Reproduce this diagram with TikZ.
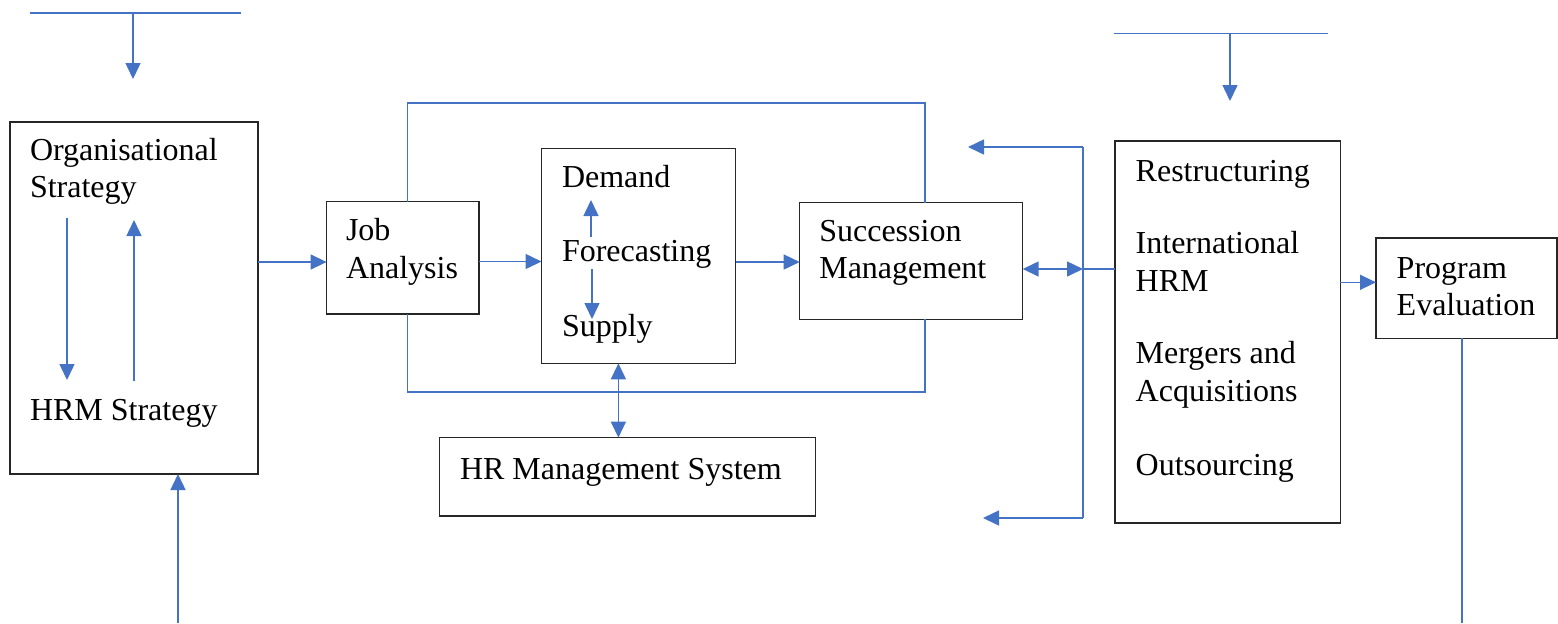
\documentclass[tikz,border=0pt]{standalone}
\usepackage{fontspec}
\setmainfont{Liberation Serif}
\usetikzlibrary{arrows.meta}
\definecolor{lnblue}{HTML}{4472C4}
\tikzset{
  box/.style={draw=black!85, line width=0.75pt, inner sep=0pt, outer sep=0pt, fill=none},
  lbl/.style={anchor=base west, inner sep=0pt, outer sep=0pt, font=\fontsize{16}{18.5}\selectfont},
  link/.style={draw=lnblue, line width=0.75pt},
  arr/.style={link, -{Triangle[length=8pt,width=7.5pt]}},
  darr/.style={link, {Triangle[length=8pt,width=7.5pt]}-{Triangle[length=8pt,width=7.5pt]}},
}
\begin{document}
\begin{tikzpicture}[x=0.5pt,y=-0.5pt]
\useasboundingbox (0,0) rectangle (1558,623);
% boxes
\node[box, minimum width=124pt, minimum height=176pt] (org) at (134,298) {};
\node[box, minimum width=76.2pt, minimum height=56.2pt] (job) at (402.8,257.8) {};
\node[box, minimum width=97pt, minimum height=107.5pt] (fc) at (638.5,255.8) {};
\node[box, minimum width=111.5pt, minimum height=58.4pt] (succ) at (911.2,260.9) {};
\node[box, minimum width=188.2pt, minimum height=39.2pt] (hr) at (627.5,476.8) {};
\node[box, minimum width=112.7pt, minimum height=191pt] (rest) at (1227.6,332) {};
\node[box, minimum width=90.5pt, minimum height=50.3pt] (prog) at (1466.5,288.1) {};
% texts
\node[lbl] (t1) at (30,160) {Organisational};
\node[lbl] (t2) at (30,197.3) {Strategy};
\node[lbl] (t3) at (30,420) {HRM Strategy};
\node[lbl] (t4) at (346,240.7) {Job};
\node[lbl] (t5) at (346,278.3) {Analysis};
\node[lbl] (t6) at (562,187.7) {Demand};
\node[lbl] (t7) at (562,261.7) {Forecasting};
\node[lbl] (t8) at (562,336) {Supply};
\node[lbl] (t9) at (819.3,241.7) {Succession};
\node[lbl] (t10) at (819.3,278.3) {Management};
\node[lbl] (t11) at (460,479.3) {HR Management System};
\node[lbl] (t12) at (1135.7,181) {Restructuring};
\node[lbl] (t13) at (1135.7,253.3) {International};
\node[lbl] (t14) at (1135.7,291) {HRM};
\node[lbl] (t15) at (1135.7,363.8) {Mergers and};
\node[lbl] (t16) at (1135.7,401.6) {Acquisitions};
\node[lbl] (t17) at (1135.7,475) {Outsourcing};
\node[lbl] (t18) at (1396.7,278.3) {Program};
\node[lbl] (t19) at (1396.7,315.3) {Evaluation};
% coordinates
\coordinate (tlA) at (30,13);
\coordinate (tlB) at (241,13);
\coordinate (tlM) at (133,13);
\coordinate (tlT) at (133,79);
\coordinate (blS) at (178,623);
\coordinate (odA) at (67,218);
\coordinate (odB) at (67,380);
\coordinate (ouA) at (134,381);
\coordinate (ouB) at (134,220);
\coordinate (y1) at (0,262);
\coordinate (y2) at (0,261.5);
\coordinate (fuA) at (591,237);
\coordinate (fuB) at (591,200);
\coordinate (fdA) at (592,269);
\coordinate (fdB) at (592,319);
\coordinate (lpL) at (407.6,103);
\coordinate (lpR) at (925,103);
\coordinate (lbL) at (407.6,392);
\coordinate (lbR) at (925,392);
\coordinate (hx) at (618.4,0);
\coordinate (jn) at (1083,269);
\coordinate (vT) at (1083,147);
\coordinate (vB) at (1083,518);
\coordinate (aT) at (968,147);
\coordinate (aB) at (983,518);
\coordinate (trA) at (1114,33.5);
\coordinate (trB) at (1328,33.5);
\coordinate (trM) at (1230,33.5);
\coordinate (trT) at (1230,101);
\coordinate (y3) at (0,282.3);
\coordinate (prS) at (1462,623);
% connectors
\draw[link] (tlA) -- (tlB);
\draw[arr] (tlM) -- (tlT);
\draw[arr] (blS) -- (blS |- org.south);
\draw[arr] (odA) -- (odB);
\draw[arr] (ouA) -- (ouB);
\draw[arr] (org.east |- y1) -- (job.west |- y1);
\draw[arr] (job.east |- y2) -- (fc.west |- y2);
\draw[arr] (fc.east |- y1) -- (succ.west |- y1);
\draw[arr] (fuA) -- (fuB);
\draw[arr] (fdA) -- (fdB);
\draw[link] (lpL |- job.north) -- (lpL) -- (lpR) -- (lpR |- succ.north);
\draw[link] (lbL |- job.south) -- (lbL) -- (lbR) -- (lbR |- succ.south);
\draw[darr] (hx |- fc.south) -- (hx |- hr.north);
\draw[darr] (succ.east |- jn) -- (jn);
\draw[link] (jn) -- (rest.west |- jn);
\draw[link] (vT) -- (vB);
\draw[arr] (vT) -- (aT);
\draw[arr] (vB) -- (aB);
\draw[link] (trA) -- (trB);
\draw[arr] (trM) -- (trT);
\draw[arr] (rest.east |- y3) -- (prog.west |- y3);
\draw[link] (prS |- prog.south) -- (prS);
\end{tikzpicture}
\end{document}
